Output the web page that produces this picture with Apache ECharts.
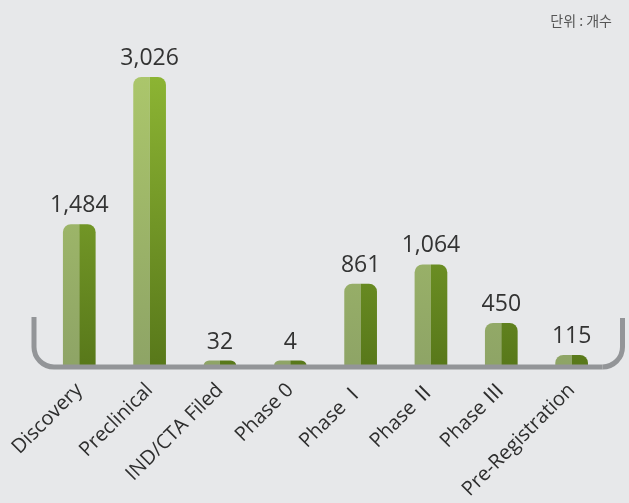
<!DOCTYPE html>
<html>
<head>
<meta charset="utf-8">
<script src="https://cdn.jsdelivr.net/npm/echarts@6/dist/echarts.min.js"></script>
<style>
html,body{margin:0;padding:0;background:#e7e8ea;}
#chart{width:629px;height:503px;}
</style>
</head>
<body>
<div id="chart"></div>
<script>
const categories = ['Discovery', 'Preclinical', 'IND/CTA Filed', 'Phase 0', 'Phase Ⅰ', 'Phase Ⅱ', 'Phase Ⅲ', 'Pre-Registration'];
const counts = [1484, 3026, 32, 4, 861, 1064, 450, 115];
const unitText = '단위 : 개수';

const chart = echarts.init(document.getElementById('chart'));
const font = "'Open Sans', 'Noto Sans', 'Noto Sans CJK KR', sans-serif";

function grad(c0, c1) {
  return {type: 'linear', x: 0, y: 77, x2: 0, y2: 366, global: true,
    colorStops: [{offset: 0, color: c0}, {offset: 1, color: c1}]};
}

const lineColor = '#939598';
const lw = 5;

chart.setOption({
  backgroundColor: '#e7e8ea',
  animation: false,
  grid: {left: 44.1, right: 22.2, top: 41.3, bottom: 137},
  xAxis: {
    type: 'category',
    data: categories,
    axisLine: {show: false},
    axisTick: {show: false},
    axisLabel: {
      rotate: 45,
      interval: 0,
      margin: 21,
      fontSize: 20,
      color: '#2e2e2e',
      fontFamily: font
    }
  },
  yAxis: {type: 'value', min: 0, max: 3400, show: false},
  series: [
    {
      type: 'bar',
      data: counts,
      barWidth: 16.35,
      barGap: '0%',
      barMinHeight: 5.5,
      itemStyle: {color: grad('#abc66b', '#8ea466'), borderRadius: [8, 0, 0, 0]},
      label: {
        show: true,
        position: 'top',
        distance: 7,
        offset: [8.2, 0],
        fontSize: 23,
        color: '#333333',
        fontFamily: font,
        formatter: p => p.value.toLocaleString('en-US')
      }
    },
    {
      type: 'bar',
      data: counts,
      barWidth: 16.35,
      barGap: '0%',
      barMinHeight: 5.5,
      itemStyle: {color: grad('#8cb433', '#58781a'), borderRadius: [0, 8, 0, 0]}
    }
  ],
  graphic: [
    {type: 'text', right: 17, top: 14, style: {text: unitText, fontSize: 14, fill: '#555', fontFamily: "'Noto Sans CJK KR', sans-serif"}},
    {type: 'line', z: 100, shape: {x1: 34, y1: 317, x2: 34, y2: 347}, style: {stroke: lineColor, lineWidth: lw}},
    {type: 'arc', z: 100, shape: {cx: 54, cy: 347, r: 20, startAngle: Math.PI / 2, endAngle: Math.PI, clockwise: true}, style: {stroke: lineColor, lineWidth: lw, fill: null}},
    {type: 'line', z: 100, shape: {x1: 54, y1: 367, x2: 602.5, y2: 367}, style: {stroke: lineColor, lineWidth: lw}},
    {type: 'arc', z: 100, shape: {cx: 602.5, cy: 347, r: 20, startAngle: 0, endAngle: Math.PI / 2, clockwise: true}, style: {stroke: lineColor, lineWidth: lw, fill: null}},
    {type: 'line', z: 100, shape: {x1: 622.5, y1: 318, x2: 622.5, y2: 347}, style: {stroke: lineColor, lineWidth: lw}}
  ]
});
</script>
</body>
</html>
